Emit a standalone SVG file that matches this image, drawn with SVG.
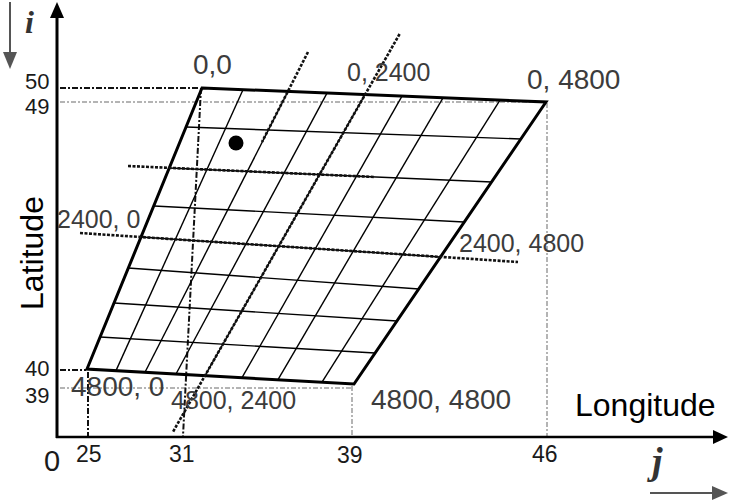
<svg xmlns="http://www.w3.org/2000/svg" width="730" height="502" viewBox="0 0 730 502">
<style>
.lbl{font-family:"Liberation Sans",Arial,sans-serif;fill:#3c3c3c}
.tick{font-family:"Liberation Sans",Arial,sans-serif;fill:#1a1a1a}
.ttl{font-family:"Liberation Sans",Arial,sans-serif;fill:#000;font-size:32px}
.ij{font-family:"Liberation Serif","Times New Roman",serif;font-style:italic;font-weight:bold;fill:#333}
.grid{stroke:#000;stroke-width:1.4;fill:none}
.edge{stroke:#000;stroke-width:3;fill:none;stroke-linejoin:miter}
.ext{stroke:#111;stroke-width:2.6;stroke-dasharray:3 1.5;fill:none}
.dd{stroke:#111;stroke-width:2;stroke-dasharray:6 2 2 2;fill:none}
.gd{stroke:#b4b4b4;stroke-width:2;stroke-dasharray:5 2 2 2;fill:none}
</style>
<rect width="730" height="502" fill="#fff"/>
<g id="guides">
<line class="gd" x1="60" y1="102" x2="546" y2="102"/>
<line class="gd" x1="547" y1="103" x2="547" y2="436"/>
<line class="gd" x1="60" y1="388" x2="352" y2="388"/>
<line class="gd" x1="352" y1="386" x2="352" y2="436"/>
<line class="dd" x1="60" y1="88" x2="200" y2="88"/>
<line class="dd" x1="201" y1="88" x2="183" y2="436"/>
<line class="dd" x1="60" y1="370" x2="86" y2="370"/>
<line class="dd" x1="88" y1="372" x2="88" y2="436"/>
</g>
<g id="grid">
<line class="grid" x1="243" y1="89.7" x2="116" y2="370.6"/>
<line class="grid" x1="288" y1="91.5" x2="145" y2="372.3"/>
<line class="grid" x1="327" y1="93.1" x2="176" y2="374"/>
<line class="grid" x1="365" y1="94.7" x2="205" y2="375.6"/>
<line class="grid" x1="402" y1="96.2" x2="242" y2="377.7"/>
<line class="grid" x1="443" y1="97.8" x2="278" y2="379.7"/>
<line class="grid" x1="500" y1="100.2" x2="322" y2="382.2"/>
<line class="grid" x1="186" y1="127" x2="521" y2="139"/>
<line class="grid" x1="169" y1="168" x2="492" y2="182"/>
<line class="grid" x1="154" y1="206" x2="464" y2="222"/>
<line class="grid" x1="141" y1="237" x2="440" y2="257"/>
<line class="grid" x1="128" y1="268" x2="419" y2="289"/>
<line class="grid" x1="114" y1="303" x2="397" y2="321"/>
<line class="grid" x1="100" y1="337" x2="375" y2="353"/>
<polygon class="edge" points="202,88 546,102 354,384 87,369"/>
</g>
<g id="extensions">
<line class="ext" x1="80" y1="233" x2="518" y2="262"/>
<line class="ext" x1="128" y1="166" x2="375" y2="177"/>
<line class="ext" x1="399.6" y1="34" x2="172.9" y2="432"/>
<line class="ext" x1="308" y1="52" x2="262" y2="142"/>
</g>
<g id="point"><circle cx="236" cy="143" r="7.5" fill="#000"/></g>
<g id="axes">
<line x1="57" y1="438" x2="57" y2="14" stroke="#000" stroke-width="3"/>
<polygon points="50,18 64,18 57,2" fill="#000"/>
<line x1="56" y1="437" x2="716" y2="437" stroke="#000" stroke-width="2.6"/>
<polygon points="713,430 713,444 728,437" fill="#000"/>
<line x1="10" y1="2" x2="10" y2="54" stroke="#555" stroke-width="2"/>
<polygon points="3,52 17,52 10,69" fill="#555"/>
<line x1="650" y1="493" x2="714" y2="493" stroke="#555" stroke-width="2"/>
<polygon points="712,486 712,500 728,493" fill="#555"/>
<text class="ij" x="25" y="33" font-size="32">i</text>
<text class="ij" x="652" y="474" font-size="38">j</text>
</g>
<g id="labels">
<text class="lbl" x="193" y="74" font-size="28">0,0</text>
<text class="lbl" x="347" y="81" font-size="25">0, 2400</text>
<text class="lbl" x="527" y="89" font-size="28">0, 4800</text>
<text class="lbl" x="459" y="252" font-size="25">2400, 4800</text>
<text class="lbl" x="57" y="228" font-size="25">2400, 0</text>
<text class="lbl" x="71" y="396" font-size="28">4800, 0</text>
<text class="lbl" x="171" y="409" font-size="25">4800, 2400</text>
<text class="lbl" x="371" y="409" font-size="28">4800, 4800</text>
<text class="ttl" x="575" y="416">Longitude</text>
<text class="ttl" transform="translate(43,253) rotate(-90)" text-anchor="middle">Latitude</text>
<text class="tick" x="25" y="89" font-size="22">50</text>
<text class="tick" x="25" y="114" font-size="22">49</text>
<text class="tick" x="25" y="376" font-size="22">40</text>
<text class="tick" x="25" y="403" font-size="22">39</text>
<text class="tick" x="44" y="471" font-size="29">0</text>
<text class="tick" x="76" y="462" font-size="23">25</text>
<text class="tick" x="169" y="462" font-size="23">31</text>
<text class="tick" x="337" y="463" font-size="23">39</text>
<text class="tick" x="532" y="462" font-size="23">46</text>
</g>
</svg>
